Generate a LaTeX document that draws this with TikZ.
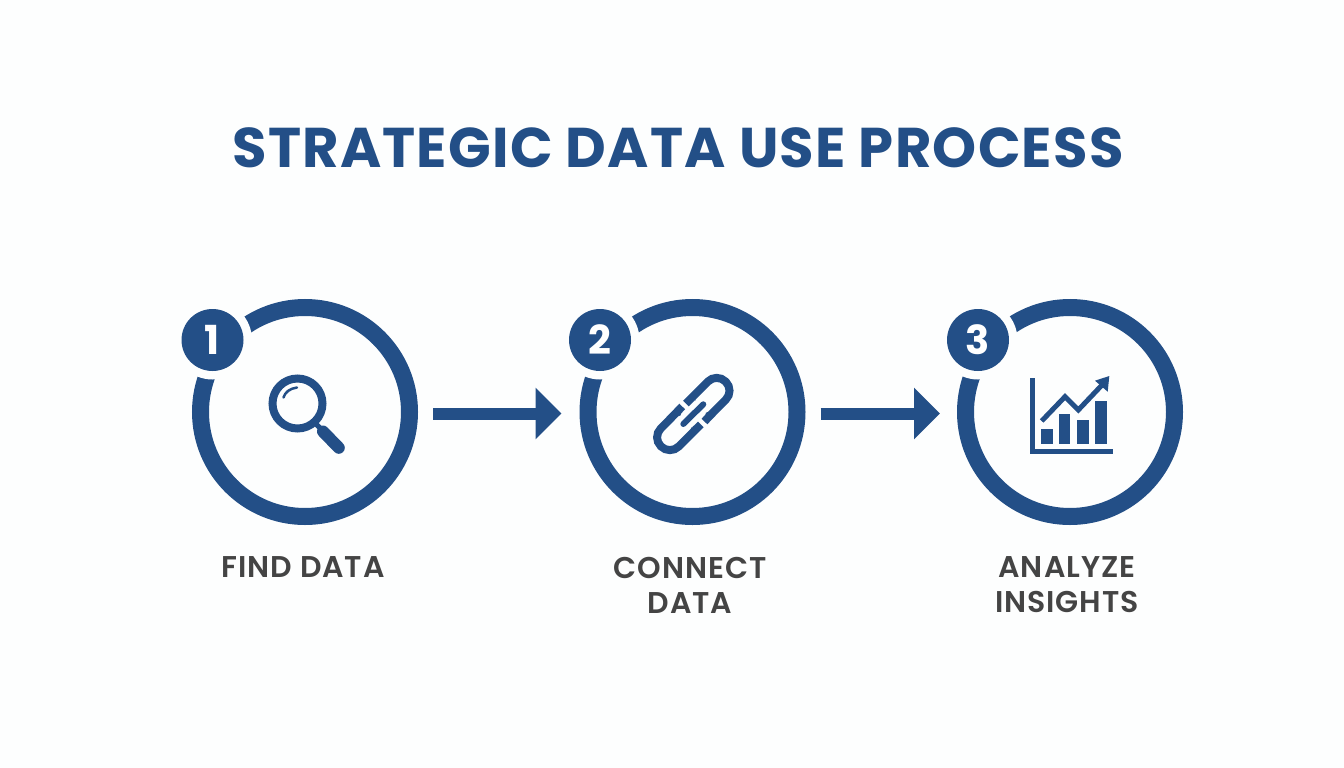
\documentclass[tikz,border=0pt]{standalone}
\usepackage{fontspec}
\setmainfont{Poppins}
\newfontfamily\titlefont{Poppins}[LetterSpace=2.2]
\newfontfamily\labelfont{Poppins SemiBold}[LetterSpace=3.2]
\usetikzlibrary{arrows.meta}
\definecolor{stepblue}{HTML}{234F87}
\definecolor{labelgray}{HTML}{444444}
\definecolor{paper}{HTML}{FDFEFE}
\begin{document}
\begin{tikzpicture}[x=1pt, y=-1pt,
		ring/.style={circle, draw=stepblue, line width=17pt, minimum size=209pt, inner sep=0pt},
		gap/.style={circle, fill=paper, minimum size=79pt, inner sep=0pt},
		badge/.style={circle, fill=stepblue, text=white, minimum size=62pt, inner sep=0pt, font=\fontsize{40}{40}\selectfont\bfseries},
		steplabel/.style={text=labelgray, align=center, font=\fontsize{30}{35}\selectfont\labelfont},
		flow/.style={draw=stepblue, line width=12pt, -{Triangle[width=50pt, length=26pt]}},
		icon/.style={draw=stepblue, line width=8pt},
		chainlink/.style={draw=stepblue, line width=8pt, rounded corners=12.5pt}]
	\useasboundingbox[fill=paper] (0,0) rectangle (1344,768);

	\node[text=stepblue, font=\fontsize{56}{56}\selectfont\titlefont\bfseries] (title) at (678,148) {STRATEGIC DATA USE PROCESS};

	\node[ring] (find) at (305,412) {};
	\node[ring] (connect) at (692.5,412) {};
	\node[ring] (analyze) at (1070,412) {};

	\node[gap] (gapa) at (212.5,340) {};
	\node[gap] (gapb) at (600,340) {};
	\node[gap] (gapc) at (978,340) {};
	\node[badge] (numa) at (212.5,340) {1};
	\node[badge] (numb) at (600,340) {2};
	\node[badge] (numc) at (978,340) {3};

	\draw[flow] ([xshift=15pt, yshift=-1.5pt]find.east) -- ([xshift=-18pt, yshift=-1.5pt]connect.west);
	\draw[flow] ([xshift=15pt, yshift=-1.5pt]connect.east) -- ([xshift=-17pt, yshift=-1.5pt]analyze.west);

	\node[steplabel] (finddata) at (303,567) {FIND DATA};
	\node[steplabel] (connectdata) at (690,585) {CONNECT\\DATA};
	\node[steplabel] (analyzeinsights) at (1067,585) {ANALYZE\\INSIGHTS};

	% magnifier
	\draw[icon] (297.5,403.5) circle (25pt);
	\draw[draw=stepblue, line width=5pt] (316,424) -- (324,432);
	\draw[draw=stepblue, line width=12pt, line cap=round] (323,431.5) -- (338.8,447.8);
	\draw[draw=stepblue, line width=2.5pt, line cap=round] (283.5,397.5) .. controls (285,392) and (290,388.5) .. (297,387.5);

	% chain
	\draw[chainlink] (691.5,399.5) .. controls (692,397.5) and (693,396.4) .. (694.7,394.7) -- (716.7,372.7) -- (734.7,390.7) -- (713,412.4) .. controls (711.5,414) and (709.5,415.5) .. (707.5,416.5);
	\draw[chainlink] (695.1,428.5) .. controls (694.6,430.5) and (693.6,431.6) .. (691.9,433.3) -- (669.9,455.3) -- (651.9,437.3) -- (673.6,415.6) .. controls (675.1,414) and (677.1,412.5) .. (679.1,411.5);
	\draw[draw=stepblue, line width=6pt, line cap=round] (683.3,424) -- (703.3,404.3);

	% chart
	\draw[draw=stepblue, line width=5pt] (1032.7,378.3) -- (1032.7,451) -- (1112.7,451);
	\fill[stepblue] (1041,429) rectangle (1052.7,444.3);
	\fill[stepblue] (1059,414.3) rectangle (1070.3,444.3);
	\fill[stepblue] (1077.3,419.7) rectangle (1088.7,444.3);
	\fill[stepblue] (1095.3,400.7) rectangle (1106.7,444.3);
	\draw[draw=stepblue, line width=5pt] (1041.7,421) -- (1065,396.7) -- (1078.3,410) -- (1102,385);
	\fill[stepblue] (1109.3,376) -- (1095,380.7) -- (1107.7,391.7) -- cycle;
\end{tikzpicture}
\end{document}
